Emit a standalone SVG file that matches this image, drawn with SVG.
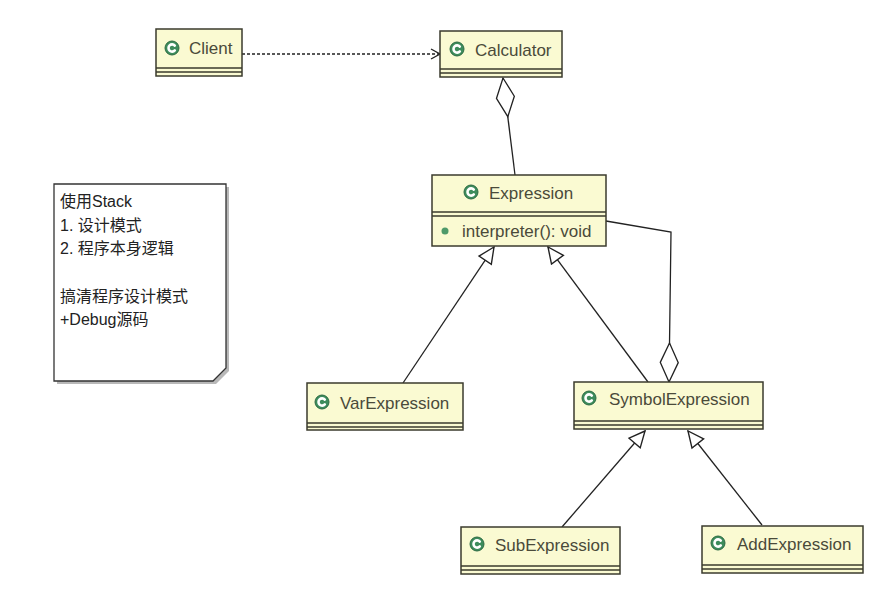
<svg xmlns="http://www.w3.org/2000/svg" width="874" height="599" viewBox="0 0 874 599">
<defs>
<style>
.box{fill:#fafad2;stroke:#3b3b2e;stroke-width:1.5}
.sep{stroke:#3b3b2e;stroke-width:1.3;fill:none}
.name{font-family:"Liberation Sans","Noto Sans",sans-serif;font-size:17px;fill:#4a4a3a}
.note{font-family:"Liberation Sans","Noto Sans CJK SC",sans-serif;font-size:16px;fill:#222}
.ic{fill:#3d8c5c;stroke:#2c6b44;stroke-width:1}
.icc{fill:none;stroke:#fff;stroke-width:2.6;stroke-linecap:round}
.ln{fill:none;stroke:#222;stroke-width:1.3}
</style>
<marker id="gen" markerUnits="userSpaceOnUse" markerWidth="18" markerHeight="18" viewBox="-16 -8 17 16" refX="0" refY="0" orient="auto">
<path d="M0,0 L-15,-7 L-15,7 Z" fill="#fff" stroke="#222" stroke-width="1.3"/>
</marker>
<marker id="agg" markerUnits="userSpaceOnUse" markerWidth="42" markerHeight="22" viewBox="-1 -10 42 20" refX="0" refY="0" orient="auto">
<path d="M0,0 L19.5,-9 L39,0 L19.5,9 Z" fill="#fff" stroke="#222" stroke-width="1.3"/>
</marker>
<marker id="dep" markerUnits="userSpaceOnUse" markerWidth="12" markerHeight="14" viewBox="-11 -7 12 14" refX="0" refY="0" orient="auto">
<path d="M-9,-5 L0,0 L-9,5" fill="none" stroke="#222" stroke-width="1.3"/>
</marker>
<g id="cicon">
<circle class="ic" r="7"/>
<path class="icc" d="M2.8,-2.4 A3.6,3.6 0 1 0 2.8,2.4"/>
</g>
</defs>
<rect width="874" height="599" fill="#fff"/>

<g id="connectors">
<path class="ln" d="M242,54 L440,54" stroke-dasharray="3,2" marker-end="url(#dep)"/>
<path class="ln" d="M503,78 L515,175" marker-start="url(#agg)"/>
<path class="ln" d="M669,382 L671,232 L606,221" marker-start="url(#agg)"/>
<path class="ln" d="M403,383 L494,247" marker-end="url(#gen)"/>
<path class="ln" d="M648,382 L548,247" marker-end="url(#gen)"/>
<path class="ln" d="M562,527 L645,431" marker-end="url(#gen)"/>
<path class="ln" d="M762,525 L688,431" marker-end="url(#gen)"/>
</g>

<g id="note">
<polygon points="57,187 229,187 229,371 216,384 57,384" fill="#888" opacity="0.6"/>
<polygon points="54,184 226,184 226,368 213,381 54,381" fill="#fff" stroke="#333" stroke-width="1.3"/>
<text class="note" x="60" y="207">使用Stack</text>
<text class="note" x="60" y="231">1. 设计模式</text>
<text class="note" x="60" y="254">2. 程序本身逻辑</text>
<text class="note" x="60" y="302">搞清程序设计模式</text>
<text class="note" x="60" y="325">+Debug源码</text>
</g>

<g id="Client">
<rect class="box" x="156" y="29" width="86" height="47"/>
<path class="sep" d="M156,68 H242 M156,72 H242"/>
<use href="#cicon" x="172" y="48"/>
<text class="name" x="189" y="54">Client</text>
</g>

<g id="Calculator">
<rect class="box" x="440" y="31" width="122" height="46"/>
<path class="sep" d="M440,69 H562 M440,73 H562"/>
<use href="#cicon" x="457" y="49"/>
<text class="name" x="475" y="56">Calculator</text>
</g>

<g id="Expression">
<rect class="box" x="432" y="175" width="174" height="71"/>
<path class="sep" d="M432,212 H606 M432,216 H606"/>
<use href="#cicon" x="471" y="192"/>
<text class="name" x="489" y="199">Expression</text>
<circle cx="445" cy="231" r="3.5" fill="#4e9a6a"/>
<text class="name" x="462" y="237">interpreter(): void</text>
</g>

<g id="VarExpression">
<rect class="box" x="307" y="383" width="156" height="47"/>
<path class="sep" d="M307,423 H463 M307,427 H463"/>
<use href="#cicon" x="322" y="402"/>
<text class="name" x="340" y="409">VarExpression</text>
</g>

<g id="SymbolExpression">
<rect class="box" x="574" y="382" width="189" height="47"/>
<path class="sep" d="M574,421 H763 M574,425 H763"/>
<use href="#cicon" x="589" y="398"/>
<text class="name" x="609" y="405">SymbolExpression</text>
</g>

<g id="SubExpression">
<rect class="box" x="461" y="527" width="159" height="47"/>
<path class="sep" d="M461,566 H620 M461,570 H620"/>
<use href="#cicon" x="477" y="544"/>
<text class="name" x="495" y="551">SubExpression</text>
</g>

<g id="AddExpression">
<rect class="box" x="702" y="526" width="161" height="47"/>
<path class="sep" d="M702,565 H863 M702,569 H863"/>
<use href="#cicon" x="718" y="543"/>
<text class="name" x="737" y="550">AddExpression</text>
</g>
</svg>
